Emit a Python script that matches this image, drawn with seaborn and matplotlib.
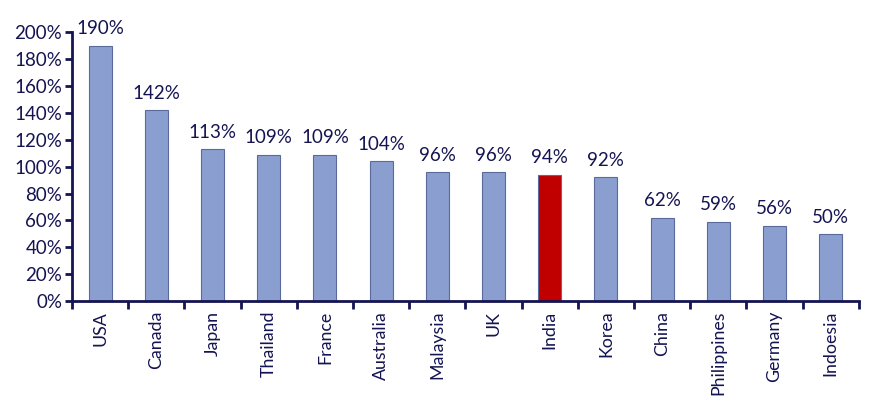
import numpy as np
import pandas as pd
import seaborn as sns
import matplotlib.pyplot as plt
from matplotlib.ticker import PercentFormatter, FixedLocator

# values
countries = ["USA", "Canada", "Japan", "Thailand", "France", "Australia", "Malaysia",
             "UK", "India", "Korea", "China", "Philippines", "Germany", "Indoesia"]
values = [190, 142, 113, 109, 109, 104, 96, 96, 94, 92, 62, 59, 56, 50]

navy = "#141452"
blue = "#8a9ed0"
red = "#c00000"
colors = [red if c == "India" else blue for c in countries]

df = pd.DataFrame({"Country": countries, "Value": values})

sns.set_theme(style="white")
plt.rcParams['font.family'] = ['Lato', 'DejaVu Sans']

fig = plt.figure(figsize=(8.89, 4.01), dpi=100)
ax = fig.add_axes([0.081, 0.249, 0.885, 0.671])

sns.barplot(data=df, x="Country", y="Value", hue="Country", palette=colors,
            saturation=1, width=0.41, edgecolor="#5a6a9a", linewidth=0.8,
            legend=False, ax=ax)

for i, v in enumerate(values):
    ax.annotate(f"{v}%", (i, v), xytext=(0, 6), textcoords="offset points",
                ha="center", va="bottom", fontsize=13.5, color=navy)

ax.set_ylim(0, 200)
ax.set_xlim(-0.5, len(countries) - 0.5)
ax.set_yticks(np.arange(0, 201, 20))
ax.yaxis.set_major_formatter(PercentFormatter(decimals=0))
ax.set_xlabel("")
ax.set_ylabel("")

for s in ["top", "right"]:
    ax.spines[s].set_visible(False)
for s in ["left", "bottom"]:
    ax.spines[s].set_color(navy)
    ax.spines[s].set_linewidth(2)

ax.tick_params(axis="x", which="major", length=0, rotation=90, labelsize=12.8,
               labelcolor=navy, pad=7)
ax.xaxis.set_minor_locator(FixedLocator(np.arange(-0.5, len(countries), 1)))
ax.tick_params(axis="x", which="minor", bottom=True, length=6, width=2, color=navy,
               direction="out")
ax.tick_params(axis="y", left=True, length=5, width=2, color=navy, direction="out",
               labelsize=13.5, labelcolor=navy, pad=2)

fig.savefig("out.png", dpi=100)
